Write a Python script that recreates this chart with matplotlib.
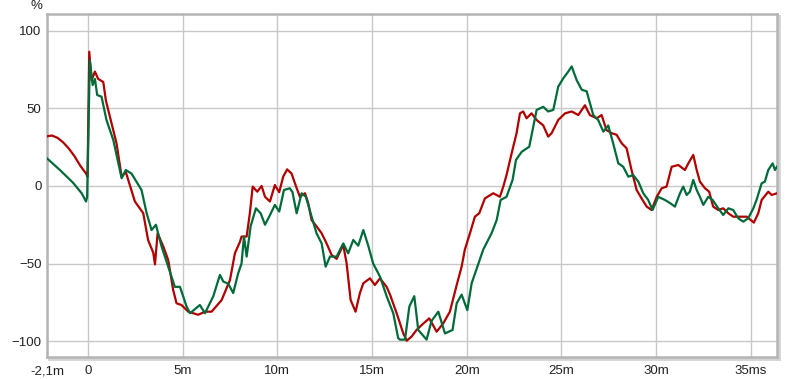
import matplotlib
matplotlib.use("Agg")
import matplotlib.pyplot as plt

# time in ms, level in %
red_t = [-2.16, -1.9, -1.6, -1.3, -1.0, -0.7, -0.4, -0.1, -0.02, 0.07, 0.19, 0.37, 0.54, 0.81, 0.95,
         1.16, 1.51, 1.78, 2.0, 2.48, 2.92, 3.18, 3.45, 3.54, 3.68, 3.98, 4.24, 4.5, 4.68, 4.94,
         5.3, 5.82, 6.18, 6.53, 7.06, 7.5, 7.76, 8.03, 8.11, 8.38, 8.55, 8.7, 8.94, 9.17, 9.35,
         9.61, 9.87, 10.1, 10.31, 10.52, 10.75, 10.98, 11.19, 11.46, 11.63, 11.81, 12.07, 12.34,
         12.6, 12.87, 13.13, 13.48, 13.66, 13.87, 14.13, 14.36, 14.54, 14.89, 15.15, 15.42,
         15.77, 15.95, 16.3, 16.65, 16.83, 17.09, 17.35, 17.62, 18.02, 18.41, 18.76, 19.11,
         19.47, 19.73, 19.9, 20.17, 20.43, 20.66, 20.96, 21.4, 21.75, 21.93, 22.1, 22.37, 22.63,
         22.81, 22.98, 23.16, 23.42, 23.69, 24.04, 24.3, 24.48, 24.83, 25.19, 25.54, 25.89,
         26.24, 26.5, 26.86, 27.12, 27.38, 27.65, 27.91, 28.18, 28.44, 28.7, 28.97, 29.23,
         29.5, 29.76, 30.03, 30.29, 30.55, 30.82, 31.17, 31.52, 31.7, 31.96, 32.14, 32.31,
         32.58, 32.8, 33.01, 33.28, 33.54, 33.81, 34.07, 34.42, 34.78, 35.16, 35.39, 35.57,
         35.92, 36.1, 36.38]
red_v = [32, 32.5, 31, 28, 24, 19, 13, 8, 6, 86.5, 68, 73.7, 69, 67, 55,
         44.7, 27.5, 6, 9, -10, -17.5, -35, -43, -50.5, -30.5, -39, -47.7, -67, -75.6, -76.7,
         -81, -83, -81, -81, -73.5, -60.6, -43.4, -35.9, -32.6, -32.6, -17.5, -0.4, -3.7, 0, -7,
         -10, 0.6, -4, 6, 10.7, 8, 0, -7, -4.7, -11, -22, -26, -30.5,
         -37, -44.5, -47, -38, -50, -73.5, -81, -69, -62.7, -59.5, -63.8, -59.5,
         -65, -70, -82, -95, -99.7, -97, -92.8, -89.6, -85.3, -93.9, -88.5, -81,
         -63.8, -52, -41, -30.5, -19.8, -17.6, -8, -4.7, -7, -0.4, 7, 21, 34,
         46.8, 48, 43.6, 46.8, 42.5, 39, 31.8, 34, 42.5, 46.8, 48, 45.7,
         52, 45.7, 43.6, 45.7, 36, 34, 33, 27.5, 24.3, 10.3, -2.6, -8,
         -13.3, -15.5, -7, -1.5, -0.4, 12.4, 13.5, 10.3, 14.6, 20, 10.3, 2.8,
         -1.5, -3.7, -13.3, -15.5, -14.4, -17.6, -19.8, -19.8, -19.8, -23.6, -17.6, -9,
         -3.7, -5.8, -4.7]

green_t = [-2.16, -1.48, -0.78, -0.33, -0.1, -0.04, 0.1, 0.25, 0.37, 0.49, 0.72, 0.98, 1.34,
           1.78, 2.0, 2.3, 2.83, 3.1, 3.36, 3.59, 3.89, 4.24, 4.59, 4.86, 5.21, 5.39, 5.91,
           6.18, 6.62, 6.97, 7.15, 7.41, 7.67, 7.94, 8.11, 8.24, 8.38, 8.59, 8.87, 9.12, 9.35,
           9.57, 9.87, 10.1, 10.35, 10.66, 10.8, 11.02, 11.28, 11.51, 11.81, 12.07, 12.34,
           12.55, 12.78, 13.13, 13.48, 13.74, 14.01, 14.27, 14.54, 14.8, 15.06, 15.42, 15.77,
           16.12, 16.38, 16.47, 16.74, 16.97, 17.23, 17.44, 17.88, 18.14, 18.5, 18.85, 19.25,
           19.47, 19.73, 20.03, 20.26, 20.56, 20.87, 21.31, 21.58, 21.79, 22.1, 22.42, 22.6,
           22.9, 23.3, 23.51, 23.69, 24.04, 24.3, 24.57, 24.83, 25.1, 25.36, 25.54, 25.8,
           26.07, 26.33, 26.68, 26.94, 27.21, 27.47, 27.73, 28.0, 28.26, 28.53, 28.79, 29.06,
           29.32, 29.58, 29.81, 30.11, 30.46, 30.73, 30.99, 31.26, 31.43, 31.61, 31.78, 31.96,
           32.14, 32.31, 32.49, 32.75, 32.98, 33.28, 33.54, 33.81, 34.07, 34.33, 34.6, 34.86,
           35.13, 35.3, 35.57, 35.74, 35.92, 36.15, 36.27, 36.38]
green_v = [17.8, 10.3, 2, -4.7, -10, -7, 81, 65, 69, 58.6, 57.5, 42.5, 29.6,
           5, 10.3, 8, -2.6, -17.5, -28.4, -25, -39, -52, -65, -65, -77.7, -82, -76.7,
           -82, -71, -57.3, -61.6, -63, -69, -56, -50, -32.6, -45.5, -26, -14.4, -17.6, -25,
           -19.8, -12.2, -16.5, -2.6, -1.5, -4, -17.6, -4.7, -7, -19.8, -30.5, -37,
           -52, -45.5, -45.5, -37, -43.4, -34.8, -38.5, -28.4, -38.5, -50, -58.4, -71,
           -82, -98, -99, -99, -77.7, -71, -92.8, -99, -87, -81, -95, -92.8,
           -75.6, -70, -80, -62.7, -52, -41, -30.5, -22, -9, -7, 3.9, 16.8,
           22, 25.3, 38, 49, 51, 48, 49, 64, 69.4, 73.7, 77, 68.3,
           62, 61, 45.7, 42.5, 35, 39, 27.5, 14.6, 12.4, 6, 7, 2.8,
           -4.7, -9, -15.5, -7, -9, -11, -13.3, -4.7, -0.4, -5.8, -3.7, 3.9,
           -2.6, -7, -12.2, -7, -9, -14.4, -18.7, -14.4, -15.5, -20.8, -23, -20.8,
           -14.4, -9, 1.7, 2.8, 10.3, 14.6, 10.3, 12.4]

x_ticks = [-2.16, 0, 5, 10, 15, 20, 25, 30, 35]
x_labels = ['-2,1m', '0', '5m', '10m', '15m', '20m', '25m', '30m', '35ms']
y_ticks = [-100, -50, 0, 50, 100]

plt.rcParams['font.family'] = ['Liberation Sans', 'DejaVu Sans']

fig = plt.figure(figsize=(8, 3.79), dpi=100)

# soft shadow behind the plot frame
shadow = fig.add_axes([49 / 800, 20 / 379, 730 / 800, 343 / 379])
shadow.set_xticks([])
shadow.set_yticks([])
for s in shadow.spines.values():
    s.set_color('#d4d4d4')
    s.set_linewidth(2)

ax = fig.add_axes([47 / 800, 22 / 379, 730 / 800, 343 / 379])
ax.plot(red_t, red_v, color='#b00000', lw=1.6, zorder=3)
ax.plot(green_t, green_v, color='#006b3a', lw=1.6, zorder=4)

ax.set_xlim(-2.16, 36.38)
ax.set_ylim(-110.2, 110.8)
ax.set_xticks(x_ticks)
ax.set_xticklabels(x_labels)
ax.set_yticks(y_ticks)
ax.grid(True, color='#c8c8c8', lw=1)
ax.set_axisbelow(True)
ax.tick_params(length=0, labelsize=9.5, colors='#222222')
ax.tick_params(axis='y', pad=4)
ax.tick_params(axis='x', pad=6)
for s in ax.spines.values():
    s.set_color('#b4b4b4')
    s.set_linewidth(1.8)

fig.text(36 / 800, 1 - 6 / 379, '%', ha='center', va='center', fontsize=9.5, color='#222222')

fig.savefig('out.png', dpi=100)
